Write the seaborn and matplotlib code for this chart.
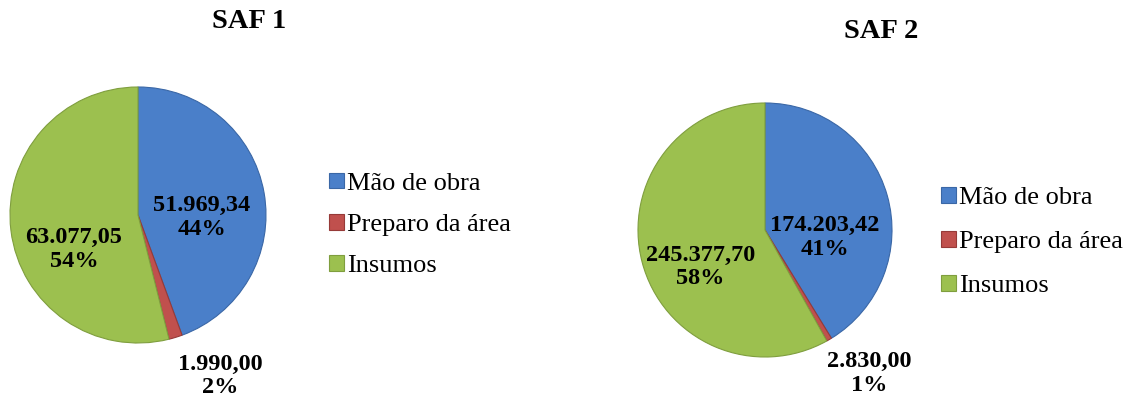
import seaborn as sns
import matplotlib.pyplot as plt

# Data
categorias = ["Mão de obra", "Preparo da área", "Insumos"]
saf1_valores = [51969.34, 1990.00, 63077.05]
saf2_valores = [174203.42, 2830.00, 245377.70]
titulos = ["SAF 1", "SAF 2"]

cores = ["#4A7FC9", "#C0504D", "#9CC04F"]
bordas = ["#3A67A6", "#963A38", "#7F9E3E"]

sns.set_theme(style="white")
plt.rcParams['font.family'] = ['Liberation Serif', 'DejaVu Serif']
plt.rcParams['text.color'] = 'black'

W, H = 1141, 400
fig = plt.figure(figsize=(W / 100, H / 100), dpi=100)


def fmt_br(v):
    s = f"{v:,.2f}"
    return s.replace(",", "X").replace(".", ",").replace("X", ".")


def desenha(valores, titulo, cx, cy, r, rotulos_pos, titulo_pos, legenda_pos, espaco):
    ax = fig.add_axes([(cx - r) / W, (H - cy - r) / H, 2 * r / W, 2 * r / H])
    wedges, _ = ax.pie(valores, colors=cores, startangle=90, counterclock=False,
                       wedgeprops=dict(linewidth=0.8))
    for w, b in zip(wedges, bordas):
        w.set_edgecolor(b)
    ax.set_xlim(-1, 1)
    ax.set_ylim(-1, 1)
    ax.set_aspect("equal")
    total = sum(valores)
    for v, (x, y) in zip(valores, rotulos_pos):
        ax.text(x, y, f"{fmt_br(v)}\n{round(v / total * 100):.0f}%", ha="center", va="center",
                fontsize=17.5, fontweight="bold", linespacing=1.15, color="black")
    fig.text(titulo_pos[0] / W, 1 - titulo_pos[1] / H, titulo, ha="center", va="center",
             fontsize=20.5, fontweight="bold", color="black")
    fig.legend(wedges, categorias, loc="center left",
               bbox_to_anchor=(legenda_pos[0] / W, 1 - legenda_pos[1] / H),
               frameon=False, fontsize=19, handlelength=0.55, handleheight=0.55,
               handletextpad=0.15, labelspacing=espaco, borderpad=0, borderaxespad=0,
               labelcolor="black")
    return ax


desenha(saf1_valores, titulos[0], 138, 215, 128,
        [(0.50, -0.02), (0.64, -1.26), (-0.50, -0.27)], (249, 21), (329, 225), 0.72)
desenha(saf2_valores, titulos[1], 765, 230, 127,
        [(0.47, -0.06), (0.82, -1.13), (-0.51, -0.29)], (881, 31), (941, 242), 0.83)

plt.savefig("out.png", dpi=100)
